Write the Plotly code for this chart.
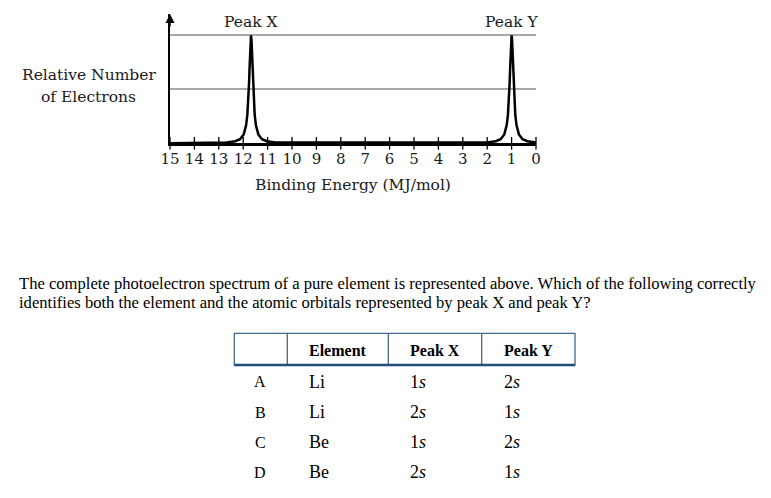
import plotly.graph_objects as go

# the page body has an 8px margin; the figure fills the rest of the 771x498 window
OFF = 8
W, H = 771 - 2 * OFF, 498 - 2 * OFF

# ---------- data ----------
spec_x = [15, 12.68, 12.33, 12.13, 11.98, 11.88, 11.83, 11.79, 11.76, 11.74, 11.72, 11.70, 11.68,
          11.66, 11.64, 11.62, 11.60, 11.57, 11.53, 11.48, 11.38, 11.23, 11.03, 10.68,
          2.0, 1.65, 1.45, 1.30, 1.20, 1.15, 1.11, 1.08, 1.06, 1.04, 1.02, 1.00,
          0.98, 0.96, 0.94, 0.92, 0.89, 0.85, 0.80, 0.70, 0.55, 0.35, 0.0]
spec_y = [0, 0.016, 0.038, 0.077, 0.165, 0.337, 0.53, 0.80, 1.117, 1.385, 1.67, 1.906, 2.0,
          1.906, 1.67, 1.385, 1.117, 0.80, 0.53, 0.337, 0.165, 0.077, 0.038, 0.016,
          0.016, 0.038, 0.077, 0.165, 0.337, 0.53, 0.80, 1.117, 1.385, 1.67, 1.906, 2.0,
          1.906, 1.67, 1.385, 1.117, 0.80, 0.53, 0.337, 0.165, 0.077, 0.038, 0.016]
tick_vals = list(range(15, -1, -1))
tick_text = [str(v) for v in tick_vals]
grid_vals = [1, 2]
peak_names = ["Peak X", "Peak Y"]
peak_pos = [11.68, 1.0]

choices = ["A", "B", "C", "D"]
elements = ["Li", "Li", "Be", "Be"]
peak_x_orb = ["1s", "2s", "1s", "2s"]
peak_y_orb = ["2s", "1s", "2s", "1s"]
headers = ["Element", "Peak X", "Peak Y"]

question = ["The complete photoelectron spectrum of a pure element is represented above. Which of the following correctly",
            "identifies both the element and the atomic orbitals represented by peak X and peak Y?"]

# ---------- helpers (window pixel -> paper fraction) ----------
def px(x):
    return (x - OFF) / W

def py(y):
    return 1 - (y - OFF) / H

def orb(s):
    return s[:-1] + "<i>" + s[-1] + "</i>"

CHART_FONT = "DejaVu Serif"
TEXT_FONT = "Liberation Serif"

fig = go.Figure()
fig.add_trace(go.Scatter(x=spec_x, y=spec_y, mode="lines",
                         line=dict(color="black", width=2.5), hoverinfo="skip"))
# tick marks crossing the axis
fig.add_trace(go.Scatter(x=tick_vals, y=[0] * len(tick_vals), mode="markers",
                         marker=dict(symbol="line-ns-open", size=9, color="black",
                                     line=dict(color="black", width=1.3)),
                         hoverinfo="skip", cliponaxis=False))

y_top = (143.3 - 14) / 54.0
fig.update_layout(
    width=W, height=H, margin=dict(l=0, r=0, t=0, b=0, autoexpand=False),
    paper_bgcolor="white", plot_bgcolor="white", showlegend=False,
    xaxis=dict(domain=[px(170), px(536)], range=[15, 0], tickvals=tick_vals,
               ticktext=tick_text, ticks="", showline=True, linecolor="black",
               linewidth=2.5, showgrid=False, zeroline=False, automargin=False,
               tickfont=dict(family=CHART_FONT, size=15, color="#1a1a1a"),
               ticklabelstandoff=0),
    yaxis=dict(domain=[py(143.3), py(14)], range=[0, y_top], tickvals=grid_vals,
               showticklabels=False, ticks="", showgrid=True, gridcolor="#a8a8a8",
               gridwidth=1.5, showline=True, linecolor="black", linewidth=1.5,
               zeroline=False, automargin=False),
)

# y-axis arrow
fig.add_annotation(x=15, y=y_top, xref="x", yref="y", ax=0, ay=14,
                   showarrow=True, arrowhead=2, arrowsize=1.2, arrowwidth=1.5,
                   arrowcolor="black", text="")

def note(x, y, text, size, family, xanchor="center", xref="paper"):
    fig.add_annotation(x=x, y=y, xref=xref, yref="paper", text=text, showarrow=False,
                       xanchor=xanchor, yanchor="middle",
                       font=dict(family=family, size=size,
                                 color="black" if family == TEXT_FONT else "#1a1a1a"))

for name, pos in zip(peak_names, peak_pos):
    note(pos, py(22), name, 15.5, CHART_FONT, xref="x")
note(px(88.7), py(75), "Relative Number", 15.5, CHART_FONT)
note(px(88.7), py(97), "of Electrons", 15.5, CHART_FONT)
note(px(353), py(185), "Binding Energy (MJ/mol)", 15.5, CHART_FONT)

# question text
for i, line in enumerate(question):
    note(px(17), py(283 + 19 * i), line, 16.6, TEXT_FONT, xanchor="left")

# table
for h, cx in zip(headers, [337.7, 435, 528.3]):
    note(px(cx), py(350), "<b>" + h + "</b>", 16, TEXT_FONT)
row_y = [381.7, 412.3, 442.3, 472.3]
for i in range(4):
    y = py(row_y[i])
    note(px(260), y, choices[i], 16, TEXT_FONT)
    note(px(307), y, elements[i], 18, TEXT_FONT, xanchor="left")
    note(px(408.5), y, orb(peak_x_orb[i]), 18, TEXT_FONT, xanchor="left")
    note(px(502), y, orb(peak_y_orb[i]), 18, TEXT_FONT, xanchor="left")

bc = "#45698a"
fig.add_shape(type="rect", xref="paper", yref="paper", x0=px(234.3), x1=px(575),
              y0=py(365), y1=py(333.3), line=dict(color=bc, width=1.3))
for vx in [287.3, 388.3, 481.7]:
    fig.add_shape(type="line", xref="paper", yref="paper", x0=px(vx), x1=px(vx),
                  y0=py(365), y1=py(333.3), line=dict(color=bc, width=1.3))
fig.add_shape(type="line", xref="paper", yref="paper", x0=px(234.3), x1=px(575),
              y0=py(365), y1=py(365), line=dict(color="#1f4e79", width=2.5))

fig.write_html("out.html")
